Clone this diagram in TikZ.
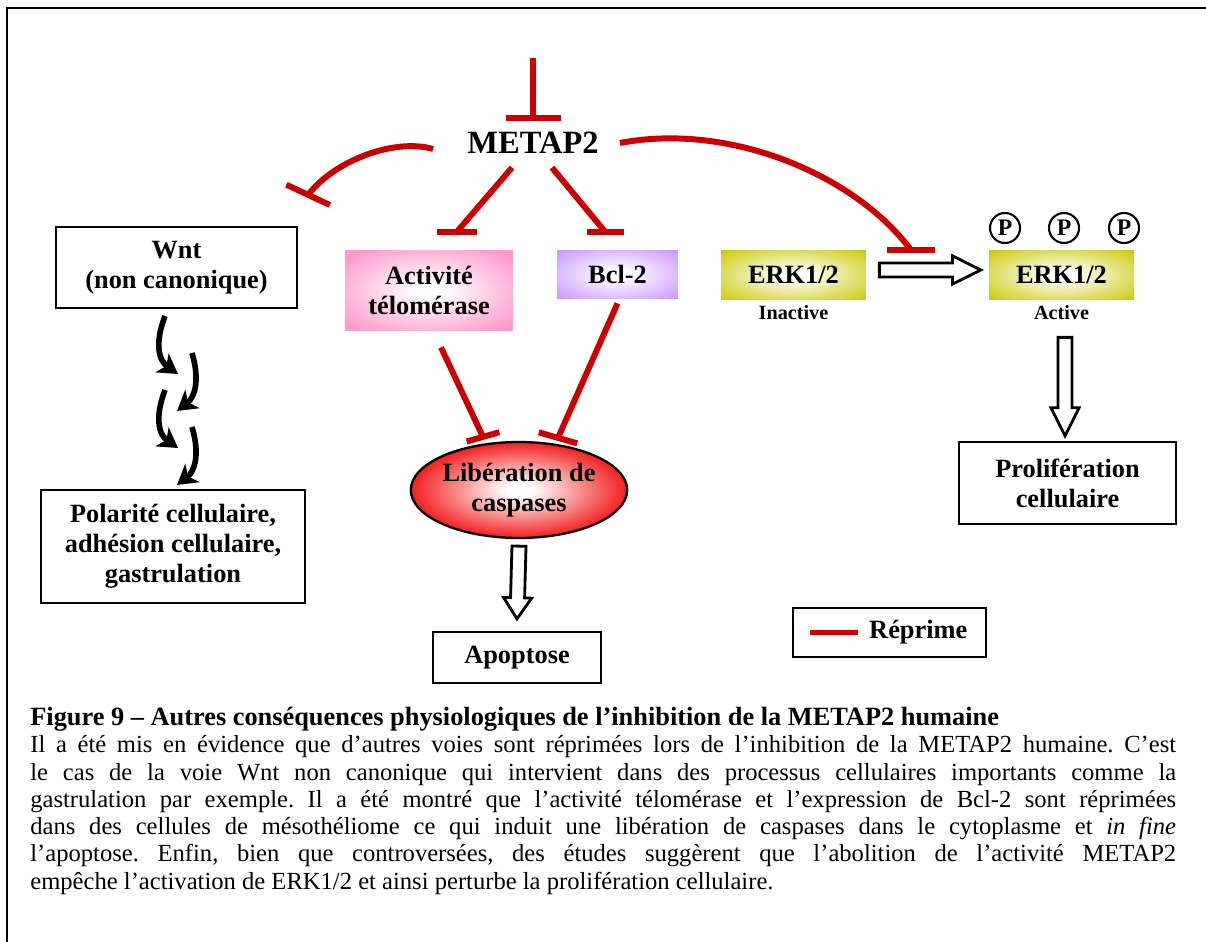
\documentclass[tikz,border=0pt]{standalone}
\usepackage{fontspec}
\setmainfont{Liberation Serif}
\usetikzlibrary{positioning,calc,shapes.geometric,arrows.meta}

\definecolor{repress}{HTML}{CC0000}
\definecolor{telpink}{HTML}{FF99CC}
\definecolor{bcllilac}{HTML}{CC99FF}
\definecolor{erkolive}{HTML}{CCCC11}
\definecolor{caspred}{HTML}{F00000}

\pgfdeclareradialshading{glowpink}{\pgfpoint{0bp}{0bp}}{color(0bp)=(white); color(4bp)=(white); color(32bp)=(telpink); color(50bp)=(telpink)}
\pgfdeclareradialshading{glowlilac}{\pgfpoint{0bp}{0bp}}{color(0bp)=(white); color(4bp)=(white); color(34bp)=(bcllilac); color(50bp)=(bcllilac)}
\pgfdeclareradialshading{glowolive}{\pgfpoint{0bp}{0bp}}{color(0bp)=(white); color(4bp)=(white); color(34bp)=(erkolive); color(50bp)=(erkolive)}
\pgfdeclareradialshading{glowred}{\pgfpoint{0bp}{0bp}}{color(0bp)=(white); color(3bp)=(white); color(28bp)=(caspred); color(50bp)=(caspred)}

% bar of an inhibition: coordinate, angle, half length
\newcommand{\tbar}[3]{\draw[inhib] (#1) ++(#2:#3) -- ++(#2+180:2*#3);}
% hollow arrow: from, to, head length
\newcommand{\fatarrow}[3]{%
  \coordinate (faS) at (#1); \coordinate (faE) at (#2);
  \coordinate (faH) at ($(faE)!#3!(faS)$);
  \draw[fatline] ($(faS)!4pt!90:(faE)$) -- ($(faH)!4pt!-90:(faS)$) -- ($(faH)!8pt!-90:(faS)$)
    -- (faE) -- ($(faH)!8pt!90:(faS)$) -- ($(faH)!4pt!90:(faS)$) -- ($(faS)!4pt!-90:(faE)$) -- cycle;}

\begin{document}
\begin{tikzpicture}[x=0.02cm, y=-0.02cm,
    label/.style={align=center, inner sep=0pt, font=\bfseries\fontsize{15}{17}\selectfont},
    box/.style={label, draw, line width=1.3pt},
    state/.style={inner sep=0pt, font=\bfseries\fontsize{11.5}{12}\selectfont},
    phos/.style={circle, draw, line width=1.2pt, inner sep=0pt, minimum size=0.6cm, font=\bfseries\fontsize{13.5}{13.5}\selectfont},
    inhib/.style={repress, line width=3.4pt},
    squig/.style={line width=3.2pt, -{Stealth[length=11pt,width=13pt,inset=3pt]}},
    fatline/.style={draw=black, line width=1.6pt, fill=white, line join=miter}]
  \useasboundingbox (0,0) rectangle (1206,942);
  \draw[line width=1.3pt] (1206,8) -- (7,8) -- (7,942);

  % nodes
  \node[inner sep=0pt, font=\bfseries\fontsize{18.5}{20}\selectfont] (metap) at (533,143) {METAP2};
  \coordinate (topIn) at (533,58);
  \node[box, minimum width=4.82cm, minimum height=1.62cm] (wnt) at (176.5,267.5) {Wnt\\(non canonique)};
  \node[label, shading=glowpink, minimum width=3.36cm, minimum height=1.62cm] (tel) at (429,290.5) {Activité\\télomérase};
  \node[label, shading=glowlilac, minimum width=2.42cm, minimum height=0.98cm] (bcl) at (617.5,274.5) {Bcl-2};
  \node[label, shading=glowolive, minimum width=2.9cm, minimum height=1cm] (erkI) at (793.5,275) {ERK1/2};
  \node[label, shading=glowolive, minimum width=2.9cm, minimum height=1cm] (erkA) at (1061.5,275) {ERK1/2};
  \node[state, below=0.1cm of erkI] (inact) {Inactive};
  \node[state, below=0.1cm of erkA] (act) {Active};
  \foreach \cx/\nm in {1005/p1, 1064/p2, 1124/p3}
    \node[phos] (\nm) at (\cx,228) {P};
  \node[label, ellipse, draw, line width=1.3pt, shading=glowred, minimum width=3.88cm, minimum height=1.92cm] (casp) at (519,490) {Libération de\\caspases};
  \node[box, minimum width=3.36cm, minimum height=1.02cm] (apop) at (517,657.5) {Apoptose};
  \node[box, minimum width=5.28cm, minimum height=2.26cm] (pol) at (173,546.5) {Polarité cellulaire,\\adhésion cellulaire,\\gastrulation};
  \node[box, minimum width=4.34cm, minimum height=1.64cm] (prolif) at (1067.5,483) {Prolifération\\cellulaire};
  \node[box, minimum width=3.86cm, minimum height=0.98cm] (legend) at (889.5,632.5) {};

  % inhibitions
  \draw[inhib] (topIn) -- ([shift={(0,-13.5)}]metap.north) coordinate (bTop);
  \tbar{bTop}{0}{27.5}
  \draw[inhib] ([shift={(-34,6)}]metap.west) .. controls (395,138) and (335,160) .. ([shift={(10,-31)}]wnt.north east) coordinate (bWnt);
  \tbar{bWnt}{25}{24}
  \draw[inhib] ([shift={(-21,13.5)}]metap.south) -- ([shift={(28,-18)}]tel.north) coordinate (bTel);
  \tbar{bTel}{0}{20}
  \draw[inhib] ([shift={(19,13.5)}]metap.south) -- ([shift={(-12.5,-18)}]bcl.north) coordinate (bBcl);
  \tbar{bBcl}{0}{18.5}
  \draw[inhib] ([shift={(21,0)}]metap.east) .. controls (730,122) and (855,175) .. ([shift={(-78,0)}]erkA.north west) coordinate (bErk);
  \tbar{bErk}{0}{24}
  \draw[inhib] ([shift={(12,16)}]tel.south) -- ([shift={(-36,-4)}]casp.north) coordinate (bC1);
  \tbar{bC1}{-16}{17}
  \draw[inhib] ([shift={(0,4)}]bcl.south) -- ([shift={(39,-3)}]casp.north) coordinate (bC2);
  \tbar{bC2}{16}{20}

  % activations
  \fatarrow{[shift={(13,-5)}]erkI.east}{[shift={(-8,-5)}]erkA.west}{16pt}
  \fatarrow{[shift={(0,7)}]casp.south}{[shift={(0,-12)}]apop.north}{12pt}
  \fatarrow{[shift={(3.5,37)}]erkA.south}{[shift={(-2.5,-5)}]prolif.north}{16pt}

  % Wnt cascade
  \foreach \dy in {0,74} {
    \draw[squig] (165,316+\dy) .. controls (155,342+\dy) and (158,360+\dy) .. (178,374+\dy);
    \draw[squig] (192,353+\dy) .. controls (200,380+\dy) and (195,397+\dy) .. (177,411+\dy);
  }

  % legend
  \draw[inhib] ([xshift=0.36cm]legend.west) -- ++(48,0) coordinate (legLine);
  \node[label, anchor=west] (legText) at ([xshift=0.22cm]legLine) {Réprime};

  % caption
  \node[anchor=north west, inner sep=0pt, text width=22.92cm, align=justify, font=\frenchspacing\fontsize{14}{15.5}\selectfont] (caption) at (30,707)
    {{\bfseries\fontsize{15}{15.5}\selectfont Figure 9 – Autres conséquences physiologiques de l’inhibition de la METAP2 humaine}\\
     Il a été mis en évidence que d’autres voies sont réprimées lors de l’inhibition de la METAP2 humaine. C’est\linebreak
     le cas de la voie Wnt non canonique qui intervient dans des processus cellulaires importants comme la\linebreak
     gastrulation par exemple. Il a été montré que l’activité télomérase et l’expression de Bcl-2 sont réprimées\linebreak
     dans des cellules de mésothéliome ce qui induit une libération de caspases dans le cytoplasme et \textit{in fine}\linebreak
     l’apoptose. Enfin, bien que controversées, des études suggèrent que l’abolition de l’activité METAP2\linebreak
     empêche l’activation de ERK1/2 et ainsi perturbe la prolifération cellulaire.};
\end{tikzpicture}
\end{document}
